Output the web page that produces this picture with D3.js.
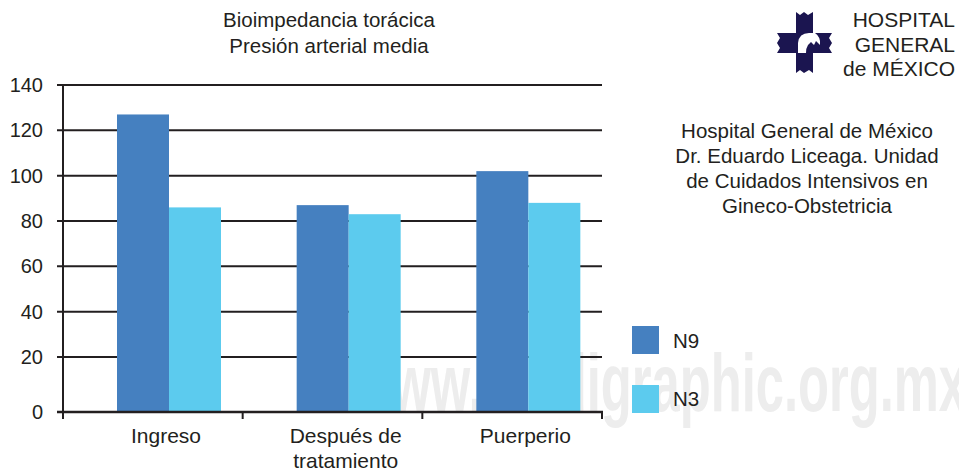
<!DOCTYPE html>
<html>
<head>
<meta charset="utf-8">
<script src="https://cdn.jsdelivr.net/npm/d3@7"></script>
<style>
  html, body { margin: 0; padding: 0; background: #fff; }
  svg { display: block; font-family: "Liberation Sans", Arial, sans-serif; }
</style>
</head>
<body>
<div id="chart"></div>
<script>
// chart data
const categories = ['Ingreso', 'Después de\ntratamiento', 'Puerperio'];
const seriesNames = ['N9', 'N3'];
const n9Values = [127, 87, 102];
const n3Values = [86, 83, 88];
const yTicks = [0, 20, 40, 60, 80, 100, 120, 140];
const titleLines = ['Bioimpedancia torácica', 'Presión arterial media'];
const noteLines = ['Hospital General de México', 'Dr. Eduardo Liceaga. Unidad', 'de Cuidados Intensivos en', 'Gineco-Obstetricia'];
const logoLines = ['HOSPITAL', 'GENERAL', 'de MÉXICO'];

const colors = { N9: '#4580c0', N3: '#5ccbee' };
const ink = '#231f20';

const width = 959, height = 470;
const svg = d3.select('#chart').append('svg')
  .attr('width', width)
  .attr('height', height);

// watermark sits behind everything
svg.append('text')
  .attr('x', 352)
  .attr('y', 411)
  .attr('textLength', 615)
  .attr('lengthAdjust', 'spacingAndGlyphs')
  .style('font-family', '"Liberation Sans Narrow", "Liberation Sans", Arial, sans-serif')
  .style('font-weight', 'bold')
  .style('font-size', '82px')
  .style('fill', '#ededed')
  .text('www.medigraphic.org.mx');

// scales: the baseline sits a bit below where the 20-step spacing would put zero
const y = d3.scaleLinear()
  .domain([0, 20, 140])
  .range([412, 357, 85]);

const x = d3.scaleBand()
  .domain(categories)
  .range([63, 602])
  .padding(0);

const xs = d3.scaleBand()
  .domain(seriesNames)
  .range([54, 158])
  .padding(0);

const g = svg.append('g');

// grid lines
g.selectAll('.grid')
  .data(yTicks.filter(d => d > 0))
  .enter()
  .append('line')
  .attr('class', 'grid')
  .attr('x1', 57)
  .attr('x2', 602)
  .attr('y1', d => y(d))
  .attr('y2', d => y(d))
  .style('stroke', ink)
  .style('stroke-width', 2);

// bars
const rows = categories.map((c, i) => ({ cat: c, N9: n9Values[i], N3: n3Values[i] }));
rows.forEach(r => {
  seriesNames.forEach(s => {
    g.append('rect')
      .attr('x', x(r.cat) + xs(s))
      .attr('y', y(r[s]))
      .attr('width', xs.bandwidth())
      .attr('height', y(0) - y(r[s]))
      .style('fill', colors[s]);
  });
});

// axes
g.append('line')
  .attr('x1', 63).attr('x2', 63)
  .attr('y1', y(140)).attr('y2', 419)
  .style('stroke', ink).style('stroke-width', 2);

g.append('line')
  .attr('x1', 57).attr('x2', 603)
  .attr('y1', y(0)).attr('y2', y(0))
  .style('stroke', ink).style('stroke-width', 2.5);

// category boundary ticks
const bounds = categories.map(c => x(c)).concat([x.range()[1]]);
g.selectAll('.xtick')
  .data(bounds)
  .enter()
  .append('line')
  .attr('x1', d => d).attr('x2', d => d)
  .attr('y1', y(0)).attr('y2', 419)
  .style('stroke', ink).style('stroke-width', 2);

// y tick labels
g.selectAll('.ylabel')
  .data(yTicks)
  .enter()
  .append('text')
  .attr('x', 43)
  .attr('y', d => y(d))
  .attr('dy', '0.35em')
  .attr('text-anchor', 'end')
  .style('font-size', '20px')
  .style('fill', ink)
  .text(d => d);

// category labels
categories.forEach(c => {
  const cx = x(c) + (xs.range()[0] + xs.range()[1]) / 2 - 3;
  c.split('\n').forEach((line, k) => {
    g.append('text')
      .attr('x', cx)
      .attr('y', 443 + k * 25)
      .attr('text-anchor', 'middle')
      .style('font-size', '21px')
      .style('fill', ink)
      .text(line);
  });
});

// title
titleLines.forEach((t, i) => {
  svg.append('text')
    .attr('x', 329)
    .attr('y', 27 + i * 26)
    .attr('text-anchor', 'middle')
    .style('font-size', '20.5px')
    .style('fill', ink)
    .text(t);
});

// legend
seriesNames.forEach((s, i) => {
  svg.append('rect')
    .attr('x', 632)
    .attr('y', 326 + i * 59)
    .attr('width', 27)
    .attr('height', 28)
    .style('fill', colors[s]);
  svg.append('text')
    .attr('x', 673)
    .attr('y', 348 + i * 58)
    .style('font-size', '20.5px')
    .style('fill', ink)
    .text(s);
});

// note on the right
noteLines.forEach((t, i) => {
  svg.append('text')
    .attr('x', 807)
    .attr('y', 138 + i * 25)
    .attr('text-anchor', 'middle')
    .style('font-size', '20.5px')
    .style('fill', ink)
    .text(t);
});

// logo text
logoLines.forEach((t, i) => {
  svg.append('text')
    .attr('x', 955)
    .attr('y', 27 + i * 24.5)
    .attr('text-anchor', 'end')
    .style('font-size', '21px')
    .style('fill', ink)
    .text(t);
});

// logo cross with eagle head
const logo = svg.append('g');
const navy = '#1b1550';
logo.append('path')
  .attr('d', 'M796,12 L800,15 L804,12 L808,15 L813,12 L813,33 L832,33 L829,38 L832,43 L829,48 L832,53 L813,53 L813,73 L809,70 L804,73 L800,70 L796,73 L796,53 L777,53 L780,48 L777,43 L780,38 L777,33 L796,33 Z')
  .style('fill', navy);
logo.append('path')
  .attr('d', 'M798,53 L798,43 Q799,33 809,33 L815,33 Q821,37 820,45 L816,41 L814,45 L811,42 L808,45 Q806,48 806,53 Z')
  .style('fill', '#fff');
</script>
</body>
</html>
